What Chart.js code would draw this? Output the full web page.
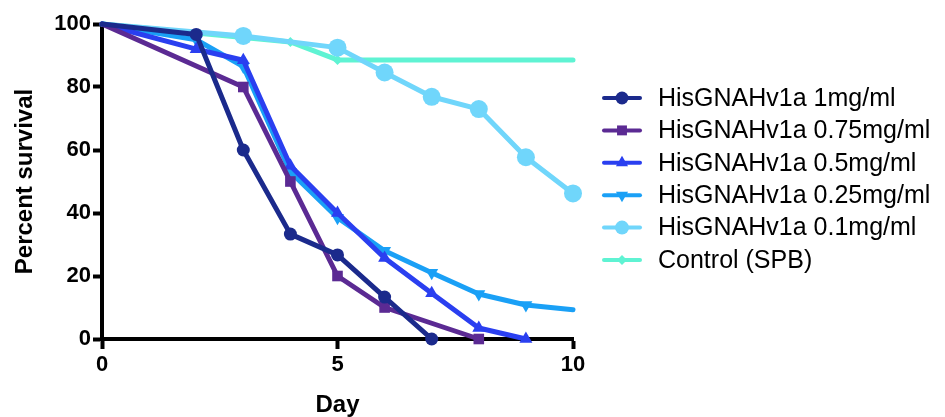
<!DOCTYPE html>
<html>
<head>
<meta charset="utf-8">
<script src="https://cdn.jsdelivr.net/npm/chart.js@4"></script>
<style>
  html, body { margin: 0; padding: 0; background: #fff; }
  #wrap { width: 945px; height: 417px; position: relative; }
</style>
</head>
<body>
<div id="wrap"><canvas id="chart"></canvas></div>
<script>
// Dữ liệu (ngày, % sống sót)
const labels = [
  "HisGNAHv1a 1mg/ml",
  "HisGNAHv1a 0.75mg/ml",
  "HisGNAHv1a 0.5mg/ml",
  "HisGNAHv1a 0.25mg/ml",
  "HisGNAHv1a 0.1mg/ml",
  "Control (SPB)"
];

const days1 = [0, 2, 3, 4, 5, 6, 7];
const surv1 = [100, 96.7, 60, 33.3, 26.7, 13.3, 0];

const days075 = [0, 3, 4, 5, 6, 8];
const surv075 = [100, 80, 50, 20, 10, 0];

const days05 = [0, 2, 3, 4, 5, 6, 7, 8, 9];
const surv05 = [100, 92, 88.5, 55, 40, 25.7, 14.5, 3.5, 0];

const days025 = [0, 2, 3, 4, 5, 6, 7, 8, 9, 10];
const surv025 = [100, 95, 86.5, 53, 38.5, 28, 21, 14.3, 10.8, 9.3];

const days01 = [0, 3, 5, 6, 7, 8, 9, 10];
const surv01 = [100, 96.2, 92.5, 84.6, 76.9, 73, 57.7, 46.2];

const daysCtrl = [0, 4, 5, 10];
const survCtrl = [100, 94.3, 88.6, 88.6];

const xTicks = [0, 5, 10];
const yTicks = [0, 20, 40, 60, 80, 100];

const colors = ["#1b2a8c", "#5b2a93", "#2a3ff0", "#1aa0f6", "#70d6fb", "#5ff3d3"];

function pts(xs, ys) {
  return xs.map((x, i) => ({ x, y: ys[i] }));
}

// ẩn marker ở điểm đầu (và cuối nếu cần)
function radii(n, r, hideLast) {
  return Array.from({ length: n }, (_, i) => (i === 0 || (hideLast && i === n - 1) ? 0 : r));
}

const series = [
  { d: pts(days1, surv1), style: "circle", r: 6.5, rot: 0, hideLast: false },
  { d: pts(days075, surv075), style: "rect", r: 7.5, rot: 0, hideLast: false },
  { d: pts(days05, surv05), style: "triangle", r: 7.5, rot: 0, hideLast: false },
  { d: pts(days025, surv025), style: "triangle", r: 7.5, rot: 180, hideLast: true },
  { d: pts(days01, surv01), style: "circle", r: 9, rot: 0, hideLast: false },
  { d: pts(daysCtrl, survCtrl), style: "rectRot", r: 5, rot: 0, hideLast: true }
];

const datasets = series.map((s, i) => ({
  label: labels[i],
  data: s.d,
  borderColor: colors[i],
  backgroundColor: colors[i],
  borderWidth: 5,
  pointStyle: s.style,
  pointRotation: s.rot,
  pointRadius: radii(s.d.length, s.r, s.hideLast),
  pointBorderWidth: 0,
  pointHoverRadius: 0,
  borderCapStyle: "round",
  borderJoinStyle: "round",
  tension: 0,
  clip: false
}));

// vẽ legend giống Prism (đường + marker)
const legendPlugin = {
  id: "prismLegend",
  afterDraw(chart) {
    const ctx = chart.ctx;
    ctx.save();
    series.forEach((s, i) => {
      const y = 98 + i * 32.4;
      ctx.strokeStyle = colors[i];
      ctx.fillStyle = colors[i];
      ctx.lineWidth = 4;
      ctx.lineCap = "round";
      ctx.beginPath();
      ctx.moveTo(604, y);
      ctx.lineTo(640, y);
      ctx.stroke();
      Chart.helpers.drawPoint(ctx, {
        pointStyle: s.style,
        radius: Math.min(s.r, 7),
        rotation: s.rot,
        borderWidth: 0
      }, 622, y);
      ctx.fillStyle = "#000";
      ctx.font = "25px 'Liberation Sans', Arial, sans-serif";
      ctx.textBaseline = "middle";
      ctx.textAlign = "left";
      ctx.fillText(labels[i], 658, y + 1);
    });
    ctx.restore();
  }
};

const tickFont = { family: "'Liberation Sans', Arial, sans-serif", size: 22, weight: "bold" };
const titleFont = { family: "'Liberation Sans', Arial, sans-serif", size: 24, weight: "bold", lineHeight: 1 };

new Chart(document.getElementById("chart"), {
  type: "line",
  data: { datasets },
  options: {
    responsive: true,
    maintainAspectRatio: false,
    animation: false,
    events: [],
    layout: { padding: { top: 24, right: 372, left: 0, bottom: 0 } },
    plugins: { legend: { display: false }, tooltip: { enabled: false } },
    scales: {
      x: {
        type: "linear",
        min: 0,
        max: 10,
        afterFit(scale) { scale.height = 78; },
        afterBuildTicks(scale) { scale.ticks = xTicks.map((v) => ({ value: v })); },
        border: { display: true, color: "#000", width: 4 },
        grid: { drawOnChartArea: false, drawTicks: true, tickLength: 10, tickWidth: 4, tickColor: "#000" },
        ticks: { color: "#000", font: tickFont, padding: 3, maxRotation: 0 },
        title: { display: true, text: "Day", color: "#000", font: titleFont, padding: { top: 4, bottom: 0 } }
      },
      y: {
        min: 0,
        max: 100,
        afterFit(scale) { scale.width = 102; },
        afterBuildTicks(scale) { scale.ticks = yTicks.map((v) => ({ value: v })); },
        border: { display: true, color: "#000", width: 4 },
        grid: { drawOnChartArea: false, drawTicks: true, tickLength: 9, tickWidth: 4, tickColor: "#000" },
        ticks: { color: "#000", font: tickFont, padding: 2 },
        title: { display: true, text: "Percent survival", color: "#000", font: titleFont, padding: { top: 13, bottom: 4 } }
      }
    }
  },
  plugins: [legendPlugin]
});
</script>
</body>
</html>
